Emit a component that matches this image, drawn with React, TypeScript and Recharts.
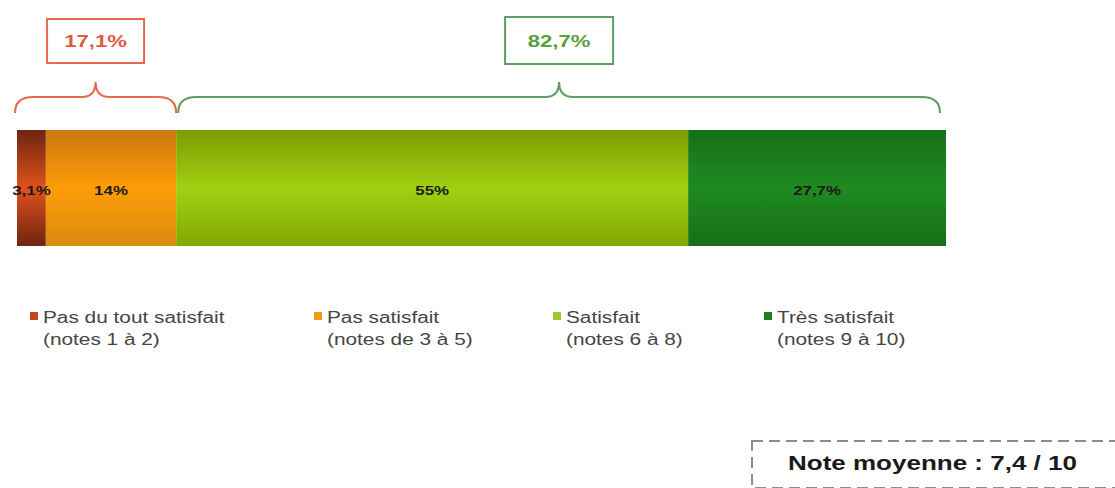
import { BarChart, Bar, XAxis, YAxis, LabelList, ReferenceArea } from "recharts";

const categories = ["Satisfaction"];
const seriesKeys = ["pasDuTout", "pas", "satisfait", "tres"];
const seriesValues = [3.1, 14, 55, 27.7];
const valueLabels = ["3,1%", "14%", "55%", "27,7%"];
const legendTitles = ["Pas du tout satisfait", "Pas satisfait", "Satisfait", "Très satisfait"];
const legendNotes = ["(notes 1 à 2)", "(notes de 3 à 5)", "(notes 6 à 8)", "(notes 9 à 10)"];
const legendColors = ["#c4461c", "#f09a1a", "#9fc62a", "#1f7d1f"];
const groupRanges: [number, number][] = [
  [0, 17.1],
  [17.1, 99.8],
];
const groupLabels = ["17,1%", "82,7%"];
const meanLabel = "Note moyenne : 7,4 / 10";

const FONT = "Arial, 'Liberation Sans', sans-serif";
const STRETCH = 1.3;

const gradients = [
  { id: "g0", top: "#6e2410", mid: "#e0521c", bottom: "#6e2410" },
  { id: "g1", top: "#c97810", mid: "#ff9c08", bottom: "#d88a10" },
  { id: "g2", top: "#7d9c00", mid: "#9fd012", bottom: "#84a800" },
  { id: "g3", top: "#16701a", mid: "#1f8a20", bottom: "#186f18" },
];

const groupColors = [
  { stroke: "#e8684e", text: "#e05a44", box: [97, 44], boxTop: 111 },
  { stroke: "#5e9e5e", text: "#5aa03c", box: [108, 47], boxTop: 113 },
];

const row: Record<string, unknown> = { name: categories[0] };
seriesKeys.forEach((k, i) => {
  row[k] = seriesValues[i];
});
const chartData = [row];

function Brace(props: any) {
  const { x, y, width, idx } = props;
  const c = groupColors[idx];
  const x0 = x - (idx === 0 ? 2 : -2);
  const x1 = x + width - (idx === 0 ? 0 : 6);
  const cx = (x0 + x1) / 2;
  const yb = y - 17;
  const yl = y - 33;
  const yp = y - 48;
  const d = `M${x0},${yb} Q${x0},${yl} ${x0 + 18},${yl} L${cx - 14},${yl} Q${cx},${yl} ${cx},${yp} Q${cx},${yl} ${cx + 14},${yl} L${x1 - 18},${yl} Q${x1},${yl} ${x1},${yb}`;
  const [bw, bh] = c.box;
  const by = y - c.boxTop;
  const ty = by + bh / 2 + 6;
  return (
    <g>
      <path d={d} fill="none" stroke={c.stroke} strokeWidth={2} />
      <rect x={cx - bw / 2} y={by} width={bw} height={bh} fill="#fff" stroke={c.stroke} strokeWidth={2} />
      <text
        transform={`translate(${cx},${ty}) scale(${STRETCH},1)`}
        textAnchor="middle"
        fontFamily={FONT}
        fontWeight="bold"
        fontSize={17}
        fill={c.text}
      >
        {groupLabels[idx]}
      </text>
    </g>
  );
}

function BarLabel(props: any) {
  const { x, y, width, height, idx } = props;
  const cx = x + width / 2;
  const cy = y + height / 2 + 7;
  return (
    <text
      transform={`translate(${cx},${cy}) scale(${STRETCH},1)`}
      textAnchor="middle"
      fontFamily={FONT}
      fontWeight="bold"
      fontSize={13}
      fill="#1a1a1a"
    >
      {valueLabels[idx]}
    </text>
  );
}

function ChartLegend() {
  const lefts = [30, 314, 553, 764];
  return (
    <div style={{ position: "absolute", left: 0, top: 307, width: 1115, height: 50 }}>
      {legendTitles.map((t, i) => (
        <div
          key={t}
          style={{
            position: "absolute",
            left: lefts[i],
            top: 0,
            fontFamily: FONT,
            fontSize: 16,
            lineHeight: "22px",
            color: "#454545",
            whiteSpace: "nowrap",
          }}
        >
          <span
            style={{
              position: "absolute",
              left: 0,
              top: 5,
              width: 8,
              height: 8,
              background: legendColors[i],
            }}
          />
          <div style={{ marginLeft: 13, transform: `scaleX(${STRETCH})`, transformOrigin: "left" }}>{t}</div>
          <div style={{ marginLeft: 13, transform: `scaleX(${STRETCH})`, transformOrigin: "left" }}>{legendNotes[i]}</div>
        </div>
      ))}
    </div>
  );
}

export default function App() {
  return (
    <div style={{ position: "fixed", left: 0, top: 0, width: 1115, height: 488, background: "#fff", overflow: "hidden" }}>
      <BarChart
        width={1115}
        height={488}
        data={chartData}
        layout="vertical"
        margin={{ top: 130, right: 169, left: 17, bottom: 242 }}
        barCategoryGap={0}
      >
        <defs>
          {gradients.map((g) => (
            <linearGradient key={g.id} id={g.id} x1="0" y1="0" x2="0" y2="1">
              <stop offset="0%" stopColor={g.top} />
              <stop offset="50%" stopColor={g.mid} />
              <stop offset="100%" stopColor={g.bottom} />
            </linearGradient>
          ))}
        </defs>
        <XAxis type="number" domain={[0, 99.8]} hide />
        <YAxis type="category" dataKey="name" hide />
        {seriesKeys.map((k, i) => (
          <Bar key={k} dataKey={k} stackId="a" fill={`url(#g${i})`} isAnimationActive={false}>
            <LabelList dataKey={k} content={(p: any) => <BarLabel {...p} idx={i} />} />
          </Bar>
        ))}
        {groupRanges.map((r, i) => (
          <ReferenceArea
            key={i}
            x1={r[0]}
            x2={r[1]}
            ifOverflow="visible"
            shape={(p: any) => <Brace {...p} idx={i} />}
          />
        ))}
      </BarChart>
      <ChartLegend />
      <svg style={{ position: "absolute", left: 750, top: 439 }} width={380} height={55}>
        <rect x={2} y={2} width={400} height={47} fill="#fff" stroke="#8c8c8c" strokeWidth={2} strokeDasharray="11 6" />
      </svg>
      <div
        style={{
          position: "absolute",
          left: 788,
          top: 452,
          fontFamily: FONT,
          fontWeight: "bold",
          fontSize: 20,
          color: "#1a1a1a",
          whiteSpace: "nowrap",
          transform: `scaleX(${STRETCH})`,
          transformOrigin: "left",
        }}
      >
        {meanLabel}
      </div>
    </div>
  );
}
